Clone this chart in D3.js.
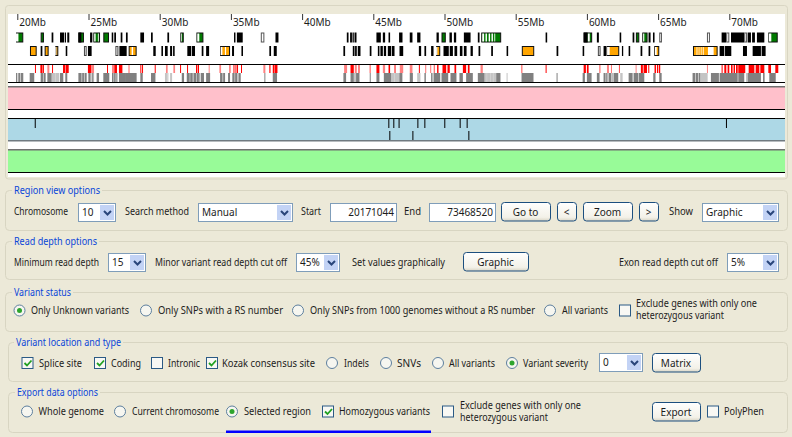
<!DOCTYPE html>
<html lang="en">
<head>
<title>Region view</title>
<meta charset="UTF-8">
<style>
  body { margin: 0; background: #ece9d8; }
  svg { display: block; }
  text { font-family: "Noto Sans", sans-serif; font-size: 10px; fill: #1c1c1c; }
  .legend { fill: #0a46d8; }
</style>
</head>
<body>
<svg id="chart" width="792" height="437"></svg>
<script src="https://cdnjs.cloudflare.com/ajax/libs/d3/7.8.5/d3.min.js"></script>
<script>
// all positions below are in Mb along the chromosome
var tickLabels = [20, 25, 30, 35, 40, 45, 50, 55, 60, 65, 70];

// top gene row
var rowOneBlack = [[22.41,22.53],[23.0,23.3],[23.35,23.42],[23.51,23.65],[24.29,24.5],[25.11,25.27],[26.63,26.74],[26.81,26.93],[27.26,27.38],[27.63,27.75],[28.64,28.9],[29.39,29.51],[30.54,30.66],[35.22,35.32],[35.42,35.83],[38.13,38.34],[43.14,43.26],[43.37,43.5],[43.54,43.63],[43.68,43.82],[45.22,45.53],[45.67,45.83],[46.07,46.18],[46.81,47.05],[47.56,47.75],[48.08,48.31],[49.44,49.6],[50.35,50.52],[50.66,50.82],[51.36,51.83],[52.34,52.46],[57.1,57.21],[59.77,60.05],[60.7,60.84],[62.3,62.41],[63.21,63.33],[64.33,64.47],[64.64,64.75],[69.46,69.77],[70.12,71.05],[71.29,71.52],[71.6,71.8],[71.94,72.46]];
var rowOneGreen = [[19.91,20.42],[21.64,21.87],[24.29,24.68],[25.34,25.81],[26.04,26.44],[31.45,31.69],[32.58,33.07],[49.79,50.09],[52.58,53.98],[59.77,60.37],[63.44,63.68],[63.89,64.26],[72.74,73.4]];
var rowOneGreenGaps = [[19.91,20.08],[25.4,25.5],[25.66,25.72],[31.5,31.55],[32.64,32.78],[52.65,52.78],[52.88,52.98],[53.1,53.2],[53.3,53.4],[53.5,53.56],[60.05,60.2],[63.95,64.03],[72.78,72.95]];
var rowOneGrey = [[37.1,37.35],[65.08,65.27],[68.43,68.64],[69.78,70.0],[71.05,71.25]];

// second gene row
var rowTwoBlack = [[21.64,21.76],[23.4,23.51],[24.96,25.22],[27.17,27.68],[29.55,29.72],[30.12,30.23],[30.37,30.56],[30.73,30.87],[30.94,31.05],[31.94,32.2],[32.25,32.48],[32.95,33.07],[33.26,33.47],[35.08,35.22],[35.74,35.85],[37.7,37.82],[38.01,38.22],[42.9,43.02],[43.56,43.68],[43.72,43.84],[43.91,44.1],[44.75,44.87],[45.32,45.43],[45.5,45.67],[45.74,45.9],[46.02,46.25],[46.3,46.49],[46.84,47.1],[48.2,48.36],[48.59,48.71],[49.06,49.23],[49.93,50.3],[50.37,50.59],[50.7,50.89],[51.08,51.26],[51.36,51.55],[51.83,51.99],[52.39,52.51],[53.28,53.4],[54.36,54.47],[57.87,57.99],[59.7,59.81],[61.17,61.36],[62.46,62.55],[62.93,63.04],[63.77,63.89],[64.33,64.45],[69.32,69.65],[69.7,70.14],[70.96,71.24],[71.64,72.22],[72.27,72.55]];
var rowTwoOrange = [[20.89,21.36],[21.92,22.2],[22.67,22.88],[27.82,28.38],[34.24,34.94],[49.41,49.7],[55.43,56.3],[61.38,62.27],[64.73,65.08],[67.45,69.18]];
var rowTwoOrangeGaps = [[22.67,22.74],[28.03,28.13],[34.28,34.4],[34.58,34.66],[49.41,49.5],[61.42,61.6],[64.78,64.9],[67.7,67.76],[67.85,67.9],[68.0,68.05],[68.14,68.2],[68.5,68.9]];
var rowTwoOpen = [[24.68,24.87],[26.89,27.1],[60.77,60.96]];

// variant track, upper half
var redStrong = [[21.24,21.31],[21.62,21.76],[21.78,21.87],[22.44,22.51],[23.21,23.37],[23.4,23.61],[24.96,25.2],[26.3,26.37],[26.81,27.0],[27.14,27.38],[28.64,28.71],[28.76,28.83],[29.65,29.72],[31.43,31.5],[31.92,31.99],[32.55,32.65],[32.69,32.76],[35.18,35.25],[35.32,35.39],[35.43,35.5],[35.71,35.78],[37.7,37.78],[37.94,38.06],[38.08,38.27],[43.4,43.63],[43.96,44.03],[44.75,44.8],[45.22,45.43],[46.07,46.18],[46.49,46.56],[48.2,48.27],[48.67,48.71],[49.02,49.06],[49.25,49.3],[49.48,49.58],[49.86,50.12],[50.21,50.37],[50.7,50.82],[51.29,51.52],[51.64,51.76],[55.41,55.46],[57.1,57.17],[59.77,59.93],[60.0,60.12],[60.89,60.94],[61.69,61.73],[62.25,62.3],[63.79,63.93],[63.98,64.22],[64.31,64.38],[64.75,64.85],[64.92,65.01],[65.06,65.15],[69.46,69.53],[69.65,69.79],[69.88,70.0],[70.12,70.23],[70.3,70.4],[70.47,70.59],[70.63,71.12],[71.36,71.76],[71.85,72.11],[72.18,72.46],[72.74,72.93],[73.23,73.44]];
var redPale = [[22.11,22.25],[25.22,25.39],[26.65,26.79],[27.8,27.89],[30.44,30.56],[30.96,31.08],[33.44,33.51],[34.19,34.31],[34.87,34.99],[37.28,37.42],[42.95,43.16],[43.7,43.84],[45.67,45.83],[46.86,47.1],[47.56,47.75],[52.53,52.69],[61.41,61.55],[63.42,63.49],[68.43,68.5]];

// variant track, lower half
var greyDark = [[19.91,20.0],[20.07,20.42],[20.87,21.19],[21.64,21.99],[22.11,22.41],[23.0,23.23],[23.37,23.51],[24.29,24.87],[24.99,25.15],[25.22,25.39],[25.57,25.74],[26.04,26.46],[26.65,27.03],[27.14,27.63],[27.63,28.38],[28.64,28.81],[29.39,29.7],[31.55,31.71],[31.9,32.32],[32.37,32.83],[32.88,33.11],[33.26,33.54],[34.24,34.59],[34.8,34.94],[35.1,35.46],[35.53,35.69],[37.35,37.42],[37.94,38.24],[42.9,43.09],[43.4,43.63],[43.79,44.03],[44.75,44.82],[45.22,45.43],[45.74,46.25],[46.84,47.03],[47.56,47.78],[48.59,48.69],[49.06,49.16],[49.23,49.7],[49.79,50.26],[50.42,50.84],[51.05,51.29],[51.52,51.99],[52.34,52.81],[53.63,53.93],[55.41,56.25],[57.87,57.94],[59.7,59.86],[60.0,60.33],[60.7,60.89],[61.17,61.45],[61.52,61.8],[61.87,62.2],[62.93,63.21],[63.28,64.03],[64.66,64.82],[65.08,65.25],[67.42,67.96],[68.71,69.27],[69.32,70.59],[70.63,71.05],[71.29,72.22],[72.37,72.48],[72.81,73.26]];
var greyLight = [[22.41,22.69],[22.69,22.95],[30.37,30.61],[30.73,30.87],[43.63,43.79],[46.25,46.49],[46.49,47.05],[48.08,48.31],[52.81,53.63],[54.36,54.43],[62.34,62.51],[67.96,68.48],[71.17,71.29]];
var greyGaps = [[20.2,20.26],[21.8,21.86],[24.5,24.56],[24.68,24.74],[25.3,25.36],[26.75,26.8],[26.9,26.96],[30.5,30.58],[32.1,32.15],[32.55,32.6],[32.75,32.8],[34.4,34.46],[35.25,35.3],[52.95,53.0],[53.2,53.26],[53.4,53.46],[61.3,61.36],[61.7,61.76],[63.6,63.66],[67.6,67.66],[67.8,67.86]];

// blue panel marks
var blueUpper = [21.26,46.09,46.44,46.81,48.13,48.62,50.02,51.1,51.59,69.8];
var blueLower = [46.16,47.78,51.71];

var svg = d3.select("#chart");
var x = d3.scaleLinear().domain([20, 70]).range([17.3, 729.3]);

svg.append("clipPath").attr("id", "panel")
  .append("rect").attr("x", 8).attr("y", 14).attr("width", 777).attr("height", 163);

// outer frame of the picture area
svg.append("rect").attr("x", 5.5).attr("y", 5.5).attr("width", 782).attr("height", 173.5).attr("rx", 3)
  .attr("fill", "#ece9d8").attr("stroke", "#d9d6c3");
svg.append("rect").attr("x", 8).attr("y", 14).attr("width", 777).attr("height", 163).attr("fill", "#fff");

var plot = svg.append("g").attr("clip-path", "url(#panel)");

function bands(data, top, height, fill, stroke) {
  plot.append("g").selectAll("rect").data(data).join("rect")
    .attr("x", function(d) { return x(d[0]) + (stroke ? 0.5 : 0); })
    .attr("y", top + (stroke ? 0.5 : 0))
    .attr("width", function(d) { return x(d[1]) - x(d[0]) - (stroke ? 1 : 0); })
    .attr("height", height - (stroke ? 1 : 0))
    .attr("fill", fill)
    .attr("stroke", stroke || "none");
}

// ruler
var axis = d3.axisBottom(x).tickValues(tickLabels).tickSize(6).tickFormat(function(d) { return d + "Mb"; });
var axisG = svg.append("g").attr("transform", "translate(0,14)").call(axis);
axisG.select(".domain").remove();
axisG.selectAll("line").attr("stroke", "#333");
axisG.selectAll("text").attr("text-anchor", "start").attr("x", 1.5).attr("y", 4.5).attr("dy", "0.71em")
  .style("font-size", "10px").style("font-family", '"Noto Sans", sans-serif').attr("fill", "#111");

// gene rows
bands(rowOneGreen, 32.5, 10, "#007a00", "#111");
bands(rowOneGreenGaps, 33.5, 8, "#fff");
bands(rowOneBlack, 32.5, 10, "#000");
bands(rowOneGrey, 32.5, 10, "#fff", "#555");
bands(rowTwoOrange, 46, 10, "#ffa500", "#111");
bands(rowTwoOrangeGaps, 47, 8, "#fff");
bands(rowTwoOpen, 46, 10, "#fff", "#444");
bands(rowTwoBlack, 46, 10, "#000");

// variant track
bands(redPale, 65, 8, "#ff8080");
bands(redStrong, 65, 8, "#ff0000");
bands(greyLight, 73, 9, "#c4c4c4");
bands(greyDark, 73, 9, "#808080");
bands(greyGaps, 73, 9, "#d4d4d4");

function hline(y, colour, weight) {
  svg.append("rect").attr("x", 8).attr("y", y).attr("width", 777).attr("height", weight || 1).attr("fill", colour);
}
hline(64, "#000");
hline(82, "#000");

// pink, blue and green panels
bands([[x.invert(8), x.invert(785)]], 87, 22, "#ffc0cb");
bands([[x.invert(8), x.invert(785)]], 119, 21, "#add8e6");
bands([[x.invert(8), x.invert(785)]], 150, 22, "#98fb98");
hline(86, "#707070", 1.5);
hline(109, "#000");
hline(118, "#000");
hline(140, "#707a80", 1.5);
hline(149, "#707070", 1.5);
hline(172, "#000");

plot.append("g").selectAll("rect").data(blueUpper).join("rect")
  .attr("x", function(d) { return x(d) - 0.5; }).attr("y", 119).attr("width", 1).attr("height", 9).attr("fill", "#000");
plot.append("g").selectAll("rect").data(blueLower).join("rect")
  .attr("x", function(d) { return x(d) - 0.5; }).attr("y", 131).attr("width", 1).attr("height", 9).attr("fill", "#000");

// form controls under the picture
var ui = svg.append("g");

function label(x1, base, s, x2, cls) {
  var t = ui.append("text").attr("x", x1).attr("y", base).text(s);
  if (x2) t.attr("textLength", x2 - x1).attr("lengthAdjust", "spacingAndGlyphs");
  if (cls) t.attr("class", cls);
}
function group(x1, y1, x2, y2, s, lx, lx2) {
  ui.append("rect").attr("x", x1 + 0.5).attr("y", y1 + 0.5).attr("width", x2 - x1).attr("height", y2 - y1)
    .attr("rx", 4).attr("fill", "none").attr("stroke", "#d8d5c2");
  ui.append("rect").attr("x", lx - 2).attr("y", y1 - 4).attr("width", lx2 - lx + 4).attr("height", 9).attr("fill", "#ece9d8");
  label(lx, y1 + 4, s, lx2, "legend");
}
function select(x1, y1, x2, s) {
  ui.append("rect").attr("x", x1 + 0.5).attr("y", y1 + 0.5).attr("width", x2 - x1).attr("height", 18)
    .attr("fill", "#fff").attr("stroke", "#7f9db9");
  ui.append("rect").attr("x", x2 - 15).attr("y", y1 + 2).attr("width", 14).attr("height", 15).attr("fill", "#c3d3f5");
  ui.append("path").attr("d", "M" + (x2 - 11) + " " + (y1 + 8) + "l3.5 3.5l3.5 -3.5")
    .attr("fill", "none").attr("stroke", "#29457a").attr("stroke-width", 2);
  label(x1 + 4, y1 + 13, s);
}
function input(x1, y1, x2, s) {
  ui.append("rect").attr("x", x1 + 0.5).attr("y", y1 + 0.5).attr("width", x2 - x1).attr("height", 18)
    .attr("fill", "#fff").attr("stroke", "#7f9db9");
  ui.append("text").attr("x", x2 - 2).attr("y", y1 + 13).attr("text-anchor", "end").text(s);
}
function button(x1, y1, x2, s) {
  ui.append("rect").attr("x", x1 + 0.5).attr("y", y1 + 0.5).attr("width", x2 - x1).attr("height", 18.5).attr("rx", 3)
    .attr("fill", "url(#btn)").attr("stroke", "#1c4f7f");
  ui.append("text").attr("x", (x1 + x2) / 2).attr("y", y1 + 13.5).attr("text-anchor", "middle").text(s);
}
function radio(cx, cy, on) {
  ui.append("circle").attr("cx", cx).attr("cy", cy).attr("r", 5.5).attr("fill", "#f6f6f0").attr("stroke", "#5d7f9e");
  if (on) ui.append("circle").attr("cx", cx).attr("cy", cy).attr("r", 2.5).attr("fill", "#2da52d");
}
function check(x1, cy, on) {
  ui.append("rect").attr("x", x1 + 0.5).attr("y", cy - 5.5).attr("width", 11).attr("height", 11)
    .attr("fill", "#f8f8f4").attr("stroke", "#2b5a85");
  if (on) ui.append("path").attr("d", "M" + (x1 + 3) + " " + cy + "l2.5 2.5l4.5 -5")
    .attr("fill", "none").attr("stroke", "#21a121").attr("stroke-width", 1.8);
}

var grad = svg.append("defs").append("linearGradient").attr("id", "btn").attr("x1", 0).attr("x2", 0).attr("y1", 0).attr("y2", 1);
grad.append("stop").attr("offset", "0").attr("stop-color", "#ffffff");
grad.append("stop").attr("offset", "0.8").attr("stop-color", "#f3f1e8");
grad.append("stop").attr("offset", "1").attr("stop-color", "#d9d5c5");

group(5, 190, 787, 230, "Region view options", 14, 100);
label(14, 215, "Chromosome", 68);
select(78, 203, 115, "10");
label(125, 215, "Search method", 189);
select(198, 203, 292, "Manual");
label(301, 215, "Start", 321);
input(330, 203, 396, "20171044");
label(404, 215, "End", 421);
input(429, 203, 495, "73468520");
button(501, 202, 550, "Go to");
button(557, 202, 576, "<");
button(583, 202, 632, "Zoom");
button(639, 202, 658, ">");
label(669, 215, "Show", 693);
select(702, 203, 778, "Graphic");

group(5, 241, 787, 279, "Read depth options", 14, 97);
label(14, 266, "Minimum read depth", 99);
select(108, 253, 145, "15");
label(155, 266, "Minor variant read depth cut off", 287);
select(296, 253, 339, "45%");
label(352, 266, "Set values graphically", 445);
button(463, 252, 528, "Graphic");
label(619, 266, "Exon read depth cut off", 718);
select(727, 253, 778, "5%");

group(5, 292, 787, 331, "Variant status", 14, 71);
radio(19.5, 310.5, true);
label(31, 314, "Only Unknown variants", 129);
radio(146, 310.5);
label(158, 314, "Only SNPs with a RS number", 283);
radio(298, 310.5);
label(310, 314, "Only SNPs from 1000 genomes without a RS number", 535);
radio(550, 310.5);
label(562, 314, "All variants", 608);
check(619, 310.5);
label(636, 307, "Exclude genes with only one", 757);
label(636, 319, "heterozygous variant", 724);

group(8, 342, 787, 381, "Variant location and type", 16, 121);
check(21.5, 363, true);
label(39, 367, "Splice site", 82);
check(94, 363, true);
label(111, 367, "Coding", 141);
check(151, 363);
label(168, 367, "Intronic", 200);
check(206, 363, true);
label(222, 367, "Kozak consensus site", 315);
radio(332, 363);
label(344, 367, "Indels", 369);
radio(386, 363);
label(397, 367, "SNVs", 421);
radio(438, 363);
label(449, 367, "All variants", 495);
radio(512, 363, true);
label(523, 367, "Variant severity", 588);
select(599, 353, 642, "0");
button(652, 353, 700, "Matrix");

group(8, 392, 787, 432, "Export data options", 17, 98);
radio(27, 411.5);
label(38.5, 415, "Whole genome", 104);
radio(120, 411.5);
label(132, 415, "Current chromosome", 219);
radio(232, 411.5, true);
label(244, 415, "Selected region", 311);
check(322, 411.5, true);
label(339, 415, "Homozygous variants", 430);
check(442, 411.5);
label(460, 409, "Exclude genes with only one", 581);
label(460, 421, "heterozygous variant", 548);
button(652, 402, 700, "Export");
check(707, 411.5);
label(724, 415, "PolyPhen", 764);

ui.append("rect").attr("x", 226).attr("y", 430.5).attr("width", 205).attr("height", 2.5).attr("fill", "#0000ff");
</script>
</body>
</html>
